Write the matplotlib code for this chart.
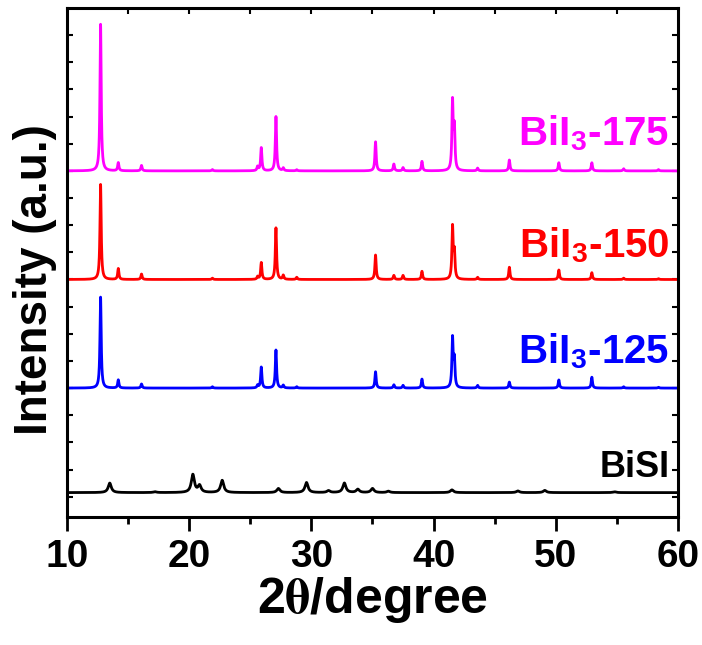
import numpy as np
import matplotlib
matplotlib.use("Agg")
import matplotlib.pyplot as plt

plt.rcParams['font.family'] = ['Liberation Sans', 'DejaVu Sans']
plt.rcParams['font.weight'] = 'bold'
plt.rcParams['mathtext.fontset'] = 'stix'

# peak positions (2theta) and heights
bii3_pos = [12.75, 14.2, 16.1, 21.9, 25.6, 25.9, 27.1, 27.7, 28.8, 35.25,
            36.75, 37.5, 39.05, 41.55, 41.7, 43.6, 46.2, 50.25, 52.95, 55.55, 58.4]
h175 = [5.4, 0.3, 0.2, 0.05, 0.15, 0.85, 2.0, 0.1, 0.04, 1.07,
        0.25, 0.12, 0.35, 2.5, 1.5, 0.1, 0.4, 0.3, 0.3, 0.08, 0.05]
h150 = [3.5, 0.4, 0.2, 0.05, 0.1, 0.62, 1.9, 0.15, 0.08, 0.9,
        0.15, 0.15, 0.3, 1.9, 0.95, 0.08, 0.45, 0.35, 0.25, 0.05, 0.03]
h125 = [3.35, 0.3, 0.15, 0.05, 0.1, 0.77, 1.4, 0.1, 0.05, 0.6,
        0.12, 0.1, 0.33, 1.8, 1.0, 0.1, 0.22, 0.3, 0.4, 0.05, 0.03]

bisi_pos = [13.5, 17.2, 20.3, 20.85, 22.7, 27.3, 29.6, 31.4, 32.7, 33.8,
            35.0, 36.3, 41.5, 46.9, 49.1, 54.8]
h_bisi = [0.35, 0.03, 0.66, 0.25, 0.45, 0.15, 0.37, 0.07, 0.35, 0.12,
          0.15, 0.05, 0.1, 0.06, 0.08, 0.03]

offsets = [12.0, 8.0, 4.0, 0.15]
labels = ['BiI$_\\mathregular{3}$-175', 'BiI$_\\mathregular{3}$-150',
          'BiI$_\\mathregular{3}$-125', 'BiSI']
colors = ['#FF00FF', '#FF0000', '#0000FF', 'black']


def pattern(x, pos, heights, width):
    y = np.zeros_like(x)
    for p, h in zip(pos, heights):
        y += h / (1 + ((x - p) / (width / 2)) ** 2)
    return y


x = np.linspace(10, 60, 6001)
traces = [pattern(x, bii3_pos, h175, 0.12),
          pattern(x, bii3_pos, h150, 0.12),
          pattern(x, bii3_pos, h125, 0.12),
          pattern(x, bisi_pos, h_bisi, 0.3)]

fig = plt.figure(figsize=(7.02, 6.45), dpi=100)
ax = fig.add_axes([0.0954, 0.1984, 0.8704, 0.7892])

for y, off, c in zip(traces, offsets, colors):
    ax.plot(x, y + off, color=c, lw=2.0)

label_y = [12.94, 8.82, 4.93, 0.74]
for lab, ly, c in zip(labels, label_y, colors):
    ax.text(59.3, ly, lab, color=c, fontsize=29 if c != 'black' else 26,
            fontweight='bold', ha='right', va='baseline')

ax.set_xlim(10, 60)
ax.set_ylim(-0.75, 18.0)
ax.set_xticks([10, 20, 30, 40, 50, 60])
ax.set_xticks([15, 25, 35, 45, 55], minor=True)
ax.set_yticks(np.arange(0, 18))
ax.set_yticklabels([])
ax.tick_params(axis='x', which='major', direction='out', length=10, width=2,
               labelsize=28, pad=6)
ax.tick_params(axis='x', which='minor', direction='out', length=5, width=2)
ax.tick_params(axis='y', which='major', direction='in', length=4, width=1.5,
               left=True, right=True)
for s in ax.spines.values():
    s.set_linewidth(2.2)

# top ticks
top = ax.secondary_xaxis('top')
top.set_xticks([15, 20, 25, 30, 35, 40, 45, 50, 55])
top.set_xticklabels([])
top.tick_params(direction='in', length=4, width=1.5)

for t in ax.get_xticklabels():
    t.set_family(['Liberation Sans Narrow', 'Liberation Sans'])
    t.set_fontweight('bold')

ax.set_xlabel('2$\\mathrm{\\theta}$/degree', fontsize=36, fontweight='bold',
              labelpad=0)
ax.set_ylabel('Intensity (a.u.)', fontsize=33, fontweight='bold')
ax.yaxis.set_label_coords(-0.016, 0.466)

fig.savefig('out.png', dpi=100)
